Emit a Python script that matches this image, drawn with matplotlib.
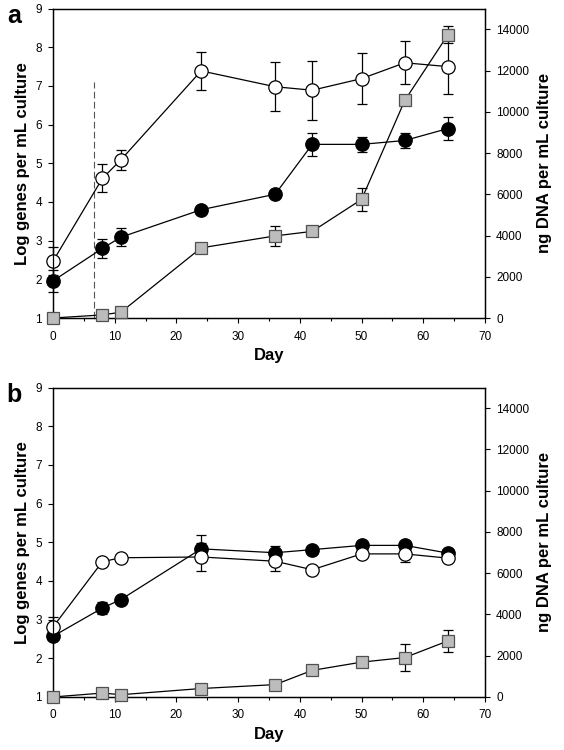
import matplotlib
matplotlib.use("Agg")
import matplotlib.pyplot as plt
from matplotlib.ticker import MultipleLocator

plt.rcParams['font.family'] = ['Liberation Sans', 'DejaVu Sans']

days = [0, 8, 11, 24, 36, 42, 50, 57, 64]

# Panel a
a_open = [2.47, 4.61, 5.09, 7.39, 6.98, 6.89, 7.19, 7.60, 7.50]
a_open_err = [0.36, 0.36, 0.25, 0.50, 0.64, 0.76, 0.66, 0.55, 0.71]
a_filled = [1.96, 2.80, 3.09, 3.80, 4.20, 5.49, 5.49, 5.59, 5.90]
a_filled_err = [0.29, 0.24, 0.24, 0.0, 0.0, 0.30, 0.20, 0.20, 0.30]
a_dna = [0, 150, 280, 3400, 3980, 4200, 5750, 10550, 13740]
a_dna_err = [0, 0, 0, 0, 470, 0, 560, 0, 420]
a_dashed_day = 6.6
a_dashed_top = 7.1

# Panel b
b_open = [2.81, 4.50, 4.60, 4.62, 4.51, 4.29, 4.70, 4.70, 4.59]
b_open_err = [0.25, 0.0, 0.0, 0.36, 0.25, 0.0, 0.0, 0.22, 0.0]
b_filled = [2.57, 3.30, 3.52, 4.83, 4.73, 4.81, 4.92, 4.92, 4.72]
b_filled_err = [0.0, 0.15, 0.0, 0.35, 0.18, 0.0, 0.0, 0.0, 0.0]
b_dna = [0, 190, 110, 410, 600, 1290, 1690, 1910, 2720]
b_dna_err = [0, 0, 0, 0, 0, 80, 0, 650, 550]

panel_letters = ['a', 'b']
left_label = 'Log genes per mL culture'
right_label = 'ng DNA per mL culture'
x_label = 'Day'

fig = plt.figure(figsize=(5.64, 7.5), dpi=100)

positions = [[0.094, 0.576, 0.766, 0.4125], [0.094, 0.0707, 0.766, 0.4125]]
panels = [
    (a_open, a_open_err, a_filled, a_filled_err, a_dna, a_dna_err),
    (b_open, b_open_err, b_filled, b_filled_err, b_dna, b_dna_err),
]

tick_fs = 8.5
label_fs = 12
sq_face = '#bcbcbc'
sq_edge = '#505050'

for i, (pos, data) in enumerate(zip(positions, panels)):
    op, ope, fi, fie, dna, dnae = data
    ax = fig.add_axes(pos)
    ax2 = ax.twinx()
    ax.set_zorder(ax2.get_zorder() - 1)
    ax.patch.set_visible(False)
    ax2.patch.set_visible(False)

    ekw = dict(ecolor='black', elinewidth=0.9, capsize=3.6, capthick=0.9)
    for cont in (
        ax.errorbar(days, fi, yerr=fie, fmt='-o', color='black', lw=0.9,
                    markersize=9.6, markerfacecolor='black', markeredgecolor='black',
                    zorder=2, **ekw),
        ax.errorbar(days, op, yerr=ope, fmt='-o', color='black', lw=0.9,
                    markersize=9.6, markerfacecolor='white', markeredgecolor='black',
                    markeredgewidth=0.9, zorder=3, **ekw),
        ax2.errorbar(days, dna, yerr=dnae, fmt='-s', color='black', lw=0.9,
                     markersize=8.2, markerfacecolor=sq_face, markeredgecolor=sq_edge,
                     markeredgewidth=0.9, zorder=4, **ekw),
    ):
        for art in cont.get_children():
            art.set_clip_on(False)
    if i == 0:
        ax.plot([a_dashed_day, a_dashed_day], [1, a_dashed_top], ls=(0, (6, 3)),
                color='#555555', lw=0.8, zorder=1)

    ax.set_xlim(0, 70)
    ax.set_ylim(1, 9)
    ax2.set_ylim(0, 15000)
    ax.xaxis.set_major_locator(MultipleLocator(10))
    ax.xaxis.set_minor_locator(MultipleLocator(5))
    ax.yaxis.set_major_locator(MultipleLocator(1))
    ax2.set_yticks(range(0, 14001, 2000))

    for a in (ax, ax2):
        a.tick_params(direction='out', length=3.5, width=0.8, labelsize=tick_fs,
                      colors='black', pad=4.5)
        a.tick_params(which='minor', direction='out', length=2.5, width=0.8)
        for s in a.spines.values():
            s.set_linewidth(0.9)
    ax.tick_params(axis='x', pad=5.5)
    ax.set_ylabel(left_label, fontsize=label_fs, fontweight='bold')
    ax.yaxis.set_label_coords(-0.054, 0.5)
    ax2.set_ylabel(right_label, fontsize=label_fs, fontweight='bold')
    ax2.yaxis.set_label_coords(1.12, 0.5)
    ax.set_xlabel(x_label, fontsize=label_fs, fontweight='bold')
    ax.xaxis.set_label_coords(0.5, -0.097)

    fig.text(0.012, pos[1] + pos[3] + 0.006, panel_letters[i], fontsize=18,
             fontweight='bold', va='top', ha='left')

fig.savefig('out.png', dpi=100)
